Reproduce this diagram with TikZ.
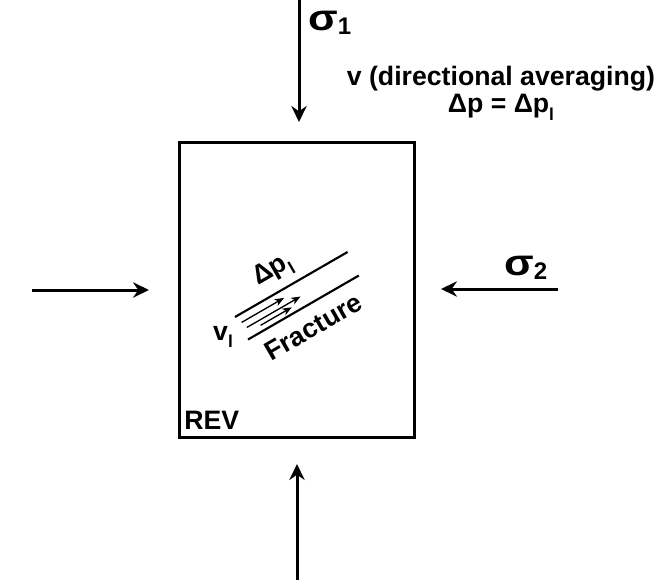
\documentclass[tikz,border=0pt]{standalone}
\usepackage{fontspec}
\setmainfont{Liberation Sans}
\usetikzlibrary{arrows.meta}
\newcommand{\sub}[1]{\raisebox{-0.28em}{\fontsize{13}{13}\selectfont #1}}
\newcommand{\bigsig}{\scalebox{1.3}[1.1]{\fontsize{25}{25}\selectfont σ}}
\tikzset{
  load/.style={line width=2.25pt,-{Stealth[length=12pt,width=11.5pt,inset=4pt]}},
  flow/.style={line width=1pt,-{Stealth[length=7pt,width=5.5pt,inset=2pt]}},
  wall/.style={line width=1.6pt},
  lbl/.style={font=\bfseries\fontsize{20}{22}\selectfont, inner sep=0pt},
}
\begin{document}
\begin{tikzpicture}[x=0.75pt,y=-0.75pt]
\useasboundingbox (0,0) rectangle (672,585);
% REV box
\node[draw, line width=2.25pt, minimum width=176.25pt, minimum height=221.25pt, inner sep=0pt] (rev) at (296.5,290) {};
\node[lbl, anchor=base west] (revlbl) at (184,429) {REV};
% loads
\coordinate (t0) at (299,0);   \coordinate (t1) at (299,122);
\coordinate (l0) at (32,290);  \coordinate (l1) at (149,290);
\coordinate (r0) at (558,289); \coordinate (r1) at (441,289);
\coordinate (b0) at (297,580); \coordinate (b1) at (297,464);
\draw[load] (t0) -- (t1);
\draw[load] (l0) -- (l1);
\draw[load] (r0) -- (r1);
\draw[load] (b0) -- (b1);
% stress labels
\node[inner sep=0pt, anchor=base west, font=\bfseries] (s1) at (308,31) {\bigsig\raisebox{-0.3em}{\fontsize{18}{18}\selectfont 1}};
\node[inner sep=0pt, anchor=base west, font=\bfseries] (s2) at (504,275) {\bigsig\raisebox{-0.3em}{\fontsize{18}{18}\selectfont 2}};
% averaging text
\node[lbl, anchor=base] (avg) at (501,86) {v (directional averaging)};
\node[lbl, anchor=base] (dp) at (501,113) {Δp = Δp\sub{l}};
% fracture
\begin{scope}[shift={(235,317)}, rotate=30]
  \coordinate (u0) at (0,0);   \coordinate (u1) at (130,0);
  \coordinate (w0) at (0,26);  \coordinate (w1) at (128,26);
  \draw[wall] (u0) -- (u1);
  \draw[wall] (w0) -- (w1);
  \coordinate (a0) at (3,8);   \coordinate (a1) at (52,8);
  \coordinate (c0) at (5,15);  \coordinate (c1) at (67,15);
  \coordinate (d0) at (18,20); \coordinate (d1) at (54,20);
  \draw[flow] (a0) -- (a1);
  \draw[flow] (c0) -- (c1);
  \draw[flow] (d0) -- (d1);
  \node[lbl, rotate=30] (dpl) at (56,-21) {Δp\sub{l}};
  \node[lbl, rotate=30] (frac) at (63,48) {Fracture};
\end{scope}
\node[lbl] (vl) at (223,337) {v\sub{l}};
\end{tikzpicture}
\end{document}
